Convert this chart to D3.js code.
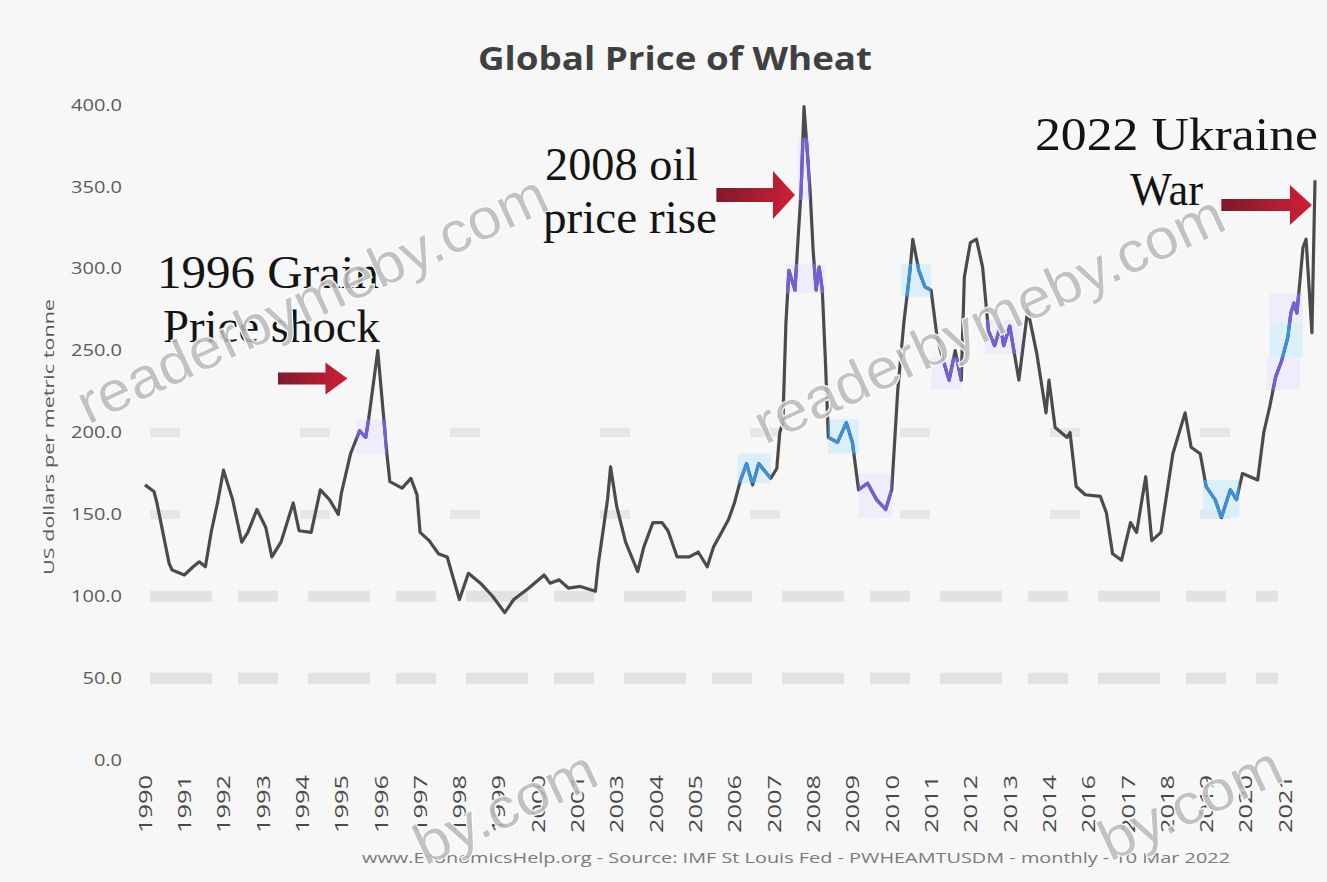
<!DOCTYPE html>
<html lang="en">
<head>
<meta charset="utf-8">
<title>Global Price of Wheat</title>
<script src="https://d3js.org/d3.v7.min.js"></script>
<style>
  body { margin: 0; background: #f7f7f7; }
  svg { display: block; }
</style>
</head>
<body>
<script>
// wheat price, US$ per metric tonne (turning points of the monthly line)
var months = [
  "1990-01","1990-04","1990-05","1990-09","1990-10","1991-02","1991-05","1991-07","1991-09","1991-11",
  "1992-01","1992-03","1992-06","1992-09","1992-11","1993-02","1993-05","1993-07","1993-10","1994-02",
  "1994-04","1994-08","1994-11","1995-02","1995-05","1995-06","1995-09","1995-12","1996-02","1996-03",
  "1996-06","1996-09","1996-10","1997-02","1997-05","1997-07","1997-08","1997-11","1998-02","1998-05",
  "1998-09","1998-12","1999-04","1999-08","1999-12","2000-03","2000-08","2001-01","2001-03","2001-06",
  "2001-09","2002-01","2002-06","2002-07","2002-10","2002-11","2003-01","2003-04","2003-08","2003-10",
  "2004-01","2004-04","2004-06","2004-09","2005-01","2005-04","2005-07","2005-09","2005-12","2006-02",
  "2006-04","2006-06","2006-08","2006-10","2006-12","2007-04","2007-06","2007-07","2007-08","2007-09",
  "2007-10","2007-12","2008-01","2008-02","2008-03","2008-05","2008-06","2008-07","2008-08","2008-09",
  "2008-10","2008-11","2009-02","2009-05","2009-07","2009-09","2009-12","2010-03","2010-06","2010-08",
  "2010-10","2010-12","2011-02","2011-03","2011-05","2011-07","2011-09","2011-11","2012-01","2012-03",
  "2012-05","2012-07","2012-08","2012-10","2012-12","2013-02","2013-04","2013-06","2013-08","2013-09",
  "2013-11","2014-02","2014-05","2014-08","2014-11","2014-12","2015-02","2015-06","2015-07","2015-09",
  "2015-12","2016-05","2016-07","2016-09","2016-12","2017-03","2017-05","2017-08","2017-10","2018-01",
  "2018-05","2018-09","2018-11","2019-02","2019-04","2019-07","2019-09","2019-12","2020-02","2020-04",
  "2020-09","2020-11","2021-01","2021-03","2021-05","2021-07","2021-08","2021-09","2021-10","2021-11",
  "2021-12","2022-01","2022-03","2022-04"
];
var prices = [
  168,164,157,120,116,113,118,121,118,140,
  157,177,159,133,139,153,142,124,133,157,
  140,139,165,159,150,163,187,201,197,208,
  250,187,170,166,172,162,139,134,126,124,
  98,114,108,100,90,98,105,113,108,110,
  105,106,103,120,159,179,155,133,115,130,
  145,145,140,124,124,127,118,130,140,147,
  157,171,181,168,181,172,178,200,206,267,
  299,287,318,348,399,348,311,287,301,287,
  246,197,194,206,194,165,169,159,153,165,
  226,267,299,318,299,289,287,258,244,232,
  250,232,295,316,318,301,262,253,265,253,
  265,232,275,248,212,232,203,197,200,167,
  162,161,151,126,122,145,139,173,134,139,
  187,212,191,187,167,159,148,165,159,175,
  171,200,216,234,244,258,273,279,273,293,
  313,318,261,354
];

// x labels: the category axis shows one label every 13 months
var tickMonths = [
  "1990-01","1991-02","1992-03","1993-04","1994-05","1995-06","1996-07","1997-08","1998-09","1999-10",
  "2000-11","2001-12","2003-01","2004-02","2005-03","2006-04","2007-05","2008-06","2009-07","2010-08",
  "2011-09","2012-10","2013-11","2014-12","2016-01","2017-02","2018-03","2019-04","2020-05","2021-06"
];
var tickLabels = [
  "1990","1991","1992","1993","1994","1995","1996","1997","1998","1999",
  "2000","2001","2003","2004","2005","2006","2007","2008","2009","2010",
  "2011","2012","2013","2014","2016","2017","2018","2019","2020","2021"
];
var yTicks = [0, 50, 100, 150, 200, 250, 300, 350, 400];

// coloured stretches of the line: from, to, low, high, tint
var bands = [
  ["1995-11","1996-09",187,208,"p"],
  ["2006-05","2007-04",169,187,"b"],
  ["2008-01","2008-05",342,380,"p"],
  ["2007-09","2008-10",285,303,"p"],
  ["2008-11","2009-09",187,208,"b"],
  ["2009-09","2010-08",148,175,"p"],
  ["2010-11","2011-09",283,303,"b"],
  ["2011-09","2012-07",226,246,"p"],
  ["2013-03","2014-03",248,269,"p"],
  ["2019-03","2020-03",148,171,"b"],
  ["2020-12","2021-11",226,246,"p"],
  ["2021-01","2021-12",246,267,"b"],
  ["2021-01","2021-12",267,285,"p"]
];

// annotations: text lines and arrows (tail month, tip month, level)
var notes = [
  {lines: ["1996 Grain", "Price shock"], x: [157, 163], y: [288, 342], len: [222, 217]},
  {lines: ["2008 oil", "price rise"], x: [545, 543], y: [180, 233], len: [153, 174]},
  {lines: ["2022 Ukraine", "War"], x: [1035, 1130], y: [150, 205], len: [283, 73]}
];
var arrows = [
  {from: "1993-09", to: "1995-08", level: 233, head: 16, shaft: 6},
  {from: "2005-10", to: "2007-12", level: 345, head: 24, shaft: 7},
  {from: "2019-09", to: "2022-03", level: 339, head: 20, shaft: 6}
];

var w = 1327, h = 882;
var parse = d3.timeParse("%Y-%m");
var data = months.map(function(m, i) { return {date: parse(m), value: prices[i]}; });

var svg = d3.select("body").append("svg").attr("width", w).attr("height", h);
svg.append("rect").attr("width", w).attr("height", h).attr("fill", "#f7f7f7");

var x = d3.scaleTime().domain([parse("1990-01"), parse("2022-04")]).range([145, 1315]);
var y = d3.scaleLinear().domain([0, 400]).range([760, 105]);

var defs = svg.append("defs");
var grad = defs.append("linearGradient").attr("id", "arrowGrad");
grad.append("stop").attr("offset", "0%").attr("stop-color", "#7e1a2c");
grad.append("stop").attr("offset", "100%").attr("stop-color", "#cf1f36");

// gridlines (washed out in the original)
svg.append("g").selectAll("line")
  .data([50, 100, 150, 200])
  .enter().append("line")
    .attr("x1", 150).attr("x2", 1278)
    .attr("y1", d => y(d)).attr("y2", d => y(d))
    .attr("stroke", "#e2e2e2")
    .attr("stroke-width", d => d <= 100 ? 11 : 9)
    .attr("stroke-dasharray", d => d <= 100 ? "62,26,40,30" : "30,120")
    .attr("opacity", d => d <= 100 ? 1 : 0.8);

// y axis
var yAxis = svg.append("g")
  .attr("transform", "translate(145,0)")
  .call(d3.axisLeft(y).tickValues(yTicks).tickFormat(d3.format(".1f")).tickSize(0).tickPadding(23));
yAxis.select(".domain").remove();
yAxis.selectAll("text")
  .attr("font-family", "Open Sans, sans-serif")
  .attr("font-size", 16)
  .attr("fill", "#5a5a5a")
  .each(function() {
    var len = this.getComputedTextLength();
    d3.select(this).attr("textLength", len * 1.25).attr("lengthAdjust", "spacingAndGlyphs");
  });

// x axis
var xAxis = svg.append("g")
  .attr("transform", "translate(0,760)")
  .call(d3.axisBottom(x)
    .tickValues(tickMonths.map(parse))
    .tickFormat((d, i) => tickLabels[i])
    .tickSize(0));
xAxis.select(".domain").remove();
xAxis.selectAll("text")
  .attr("font-family", "Open Sans, sans-serif")
  .attr("font-size", 18)
  .attr("fill", "#4a4a4a")
  .attr("transform", "rotate(-90)")
  .attr("x", -15).attr("y", 0).attr("dy", "0.35em")
  .attr("text-anchor", "end")
  .attr("textLength", 58).attr("lengthAdjust", "spacingAndGlyphs");

// axis title
svg.append("text")
  .attr("transform", "translate(54,437) rotate(-90)")
  .attr("text-anchor", "middle")
  .attr("font-family", "Open Sans, sans-serif")
  .attr("font-size", 14)
  .attr("fill", "#5a5a5a")
  .attr("textLength", 276).attr("lengthAdjust", "spacingAndGlyphs")
  .text("US dollars per metric tonne");

// chart title
svg.append("text")
  .attr("x", 675).attr("y", 70)
  .attr("text-anchor", "middle")
  .attr("font-family", "Open Sans, sans-serif")
  .attr("font-weight", "bold")
  .attr("font-size", 33)
  .attr("fill", "#404040")
  .attr("textLength", 394).attr("lengthAdjust", "spacingAndGlyphs")
  .text("Global Price of Wheat");

// band backgrounds
var tint = {p: {fill: "#ece8fb", line: "#6f62d4"}, b: {fill: "#d3ecfa", line: "#3d8fd8"}};
svg.append("g").selectAll("rect")
  .data(bands)
  .enter().append("rect")
    .attr("x", d => x(parse(d[0])))
    .attr("width", d => x(parse(d[1])) - x(parse(d[0])))
    .attr("y", d => y(d[3]))
    .attr("height", d => y(d[2]) - y(d[3]))
    .attr("fill", d => tint[d[4]].fill)
    .attr("opacity", 0.8);

// price line
var line = d3.line().x(d => x(d.date)).y(d => y(d.value));
svg.append("path")
  .datum(data)
  .attr("fill", "none")
  .attr("stroke", "#4b4b4b")
  .attr("stroke-width", 3.2)
  .attr("stroke-linejoin", "round")
  .attr("d", line);

// coloured stretches
bands.forEach(function(b, i) {
  defs.append("clipPath").attr("id", "band" + i)
    .append("rect")
      .attr("x", x(parse(b[0])))
      .attr("width", x(parse(b[1])) - x(parse(b[0])))
      .attr("y", y(b[3]))
      .attr("height", y(b[2]) - y(b[3]));
  svg.append("path")
    .datum(data)
    .attr("clip-path", "url(#band" + i + ")")
    .attr("fill", "none")
    .attr("stroke", tint[b[4]].line)
    .attr("stroke-width", 3.2)
    .attr("stroke-linejoin", "round")
    .attr("d", line);
});

// arrows
svg.append("g").selectAll("path")
  .data(arrows)
  .enter().append("path")
    .attr("fill", "url(#arrowGrad)")
    .attr("d", function(a) {
      var x0 = x(parse(a.from)), x1 = x(parse(a.to)), yy = y(a.level);
      var xh = x1 - 22;
      return "M" + x0 + "," + (yy - a.shaft) + "L" + xh + "," + (yy - a.shaft) +
        "L" + xh + "," + (yy - a.head) + "L" + x1 + "," + yy + "L" + xh + "," + (yy + a.head) +
        "L" + xh + "," + (yy + a.shaft) + "L" + x0 + "," + (yy + a.shaft) + "Z";
    });

// annotation text
notes.forEach(function(n) {
  n.lines.forEach(function(t, i) {
    svg.append("text")
      .attr("x", n.x[i]).attr("y", n.y[i])
      .attr("font-family", "Liberation Serif, serif")
      .attr("font-size", 47)
      .attr("fill", "#141414")
      .attr("textLength", n.len[i]).attr("lengthAdjust", "spacingAndGlyphs")
      .text(t);
  });
});

// source line
svg.append("text")
  .attr("x", 796).attr("y", 863)
  .attr("text-anchor", "middle")
  .attr("font-family", "Open Sans, sans-serif")
  .attr("font-size", 14)
  .attr("fill", "#7a7a7a")
  .attr("textLength", 868).attr("lengthAdjust", "spacingAndGlyphs")
  .text("www.EconomicsHelp.org - Source: IMF St Louis Fed - PWHEAMTUSDM - monthly - 10 Mar 2022");

// page watermark (the two lower copies only show their tail in the original)
var marks = [
  {x: 88, y: 425, text: "readerbymeby.com", len: 512},
  {x: 765, y: 445, text: "readerbymeby.com", len: 512},
  {x: 425, y: 866, text: "by.com", len: 195},
  {x: 1110, y: 862, text: "by.com", len: 195}
];
svg.append("g").selectAll("text")
  .data(marks)
  .enter().append("text")
    .attr("transform", d => "translate(" + d.x + "," + d.y + ") rotate(-25)")
    .attr("font-family", "Liberation Sans, sans-serif")
    .attr("font-size", 57)
    .attr("fill", "#b9b9b9")
    .attr("fill-opacity", 0.85)
    .attr("stroke", "#ffffff")
    .attr("stroke-width", 2)
    .attr("paint-order", "stroke")
    .attr("textLength", d => d.len).attr("lengthAdjust", "spacingAndGlyphs")
    .text(d => d.text);
</script>
</body>
</html>
